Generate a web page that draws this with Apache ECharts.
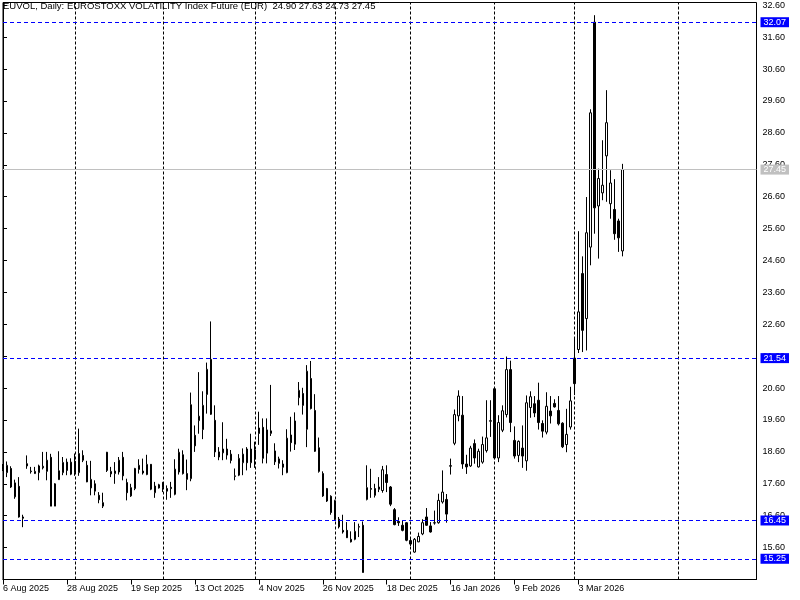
<!DOCTYPE html>
<html><head><meta charset="utf-8">
<script src="https://cdn.jsdelivr.net/npm/echarts@6/dist/echarts.min.js"></script>
<style>html,body{margin:0;padding:0;background:#fff}#c{width:800px;height:600px}</style>
</head><body><div id="c"></div>
<script>
// OHLC per trading day, index 0 = 6 Aug 2025
const opens = [18.15,17.95,18.08,17.19,17.52,16.56,18.23,17.98,17.92,17.95,18.10,17.99,18.43,16.90,17.73,17.95,18.28,17.90,18.31,17.95,
18.49,18.18,17.47,17.60,17.24,16.90,18.59,17.91,17.92,17.97,18.43,17.64,17.22,17.45,18.05,18.00,17.89,18.21,17.32,17.57,
17.64,17.45,17.49,17.27,17.97,18.51,17.92,17.76,19.12,19.58,19.30,20.40,21.50,19.59,18.60,18.57,18.69,18.33,17.83,17.87,
18.26,18.69,18.26,18.66,19.35,19.37,18.56,19.18,18.63,18.24,18.22,17.95,19.13,18.84,20.30,20.43,19.31,20.90,19.90,18.73,
17.92,17.45,17.21,17.07,16.49,16.14,16.14,15.86,15.86,16.24,16.30,17.11,17.45,17.45,17.50,17.39,17.89,17.50,16.79,16.42,
16.30,16.38,15.82,15.46,15.78,16.03,16.56,16.28,16.37,16.38,17.03,17.11,18.15,18.87,19.73,19.75,18.22,18.16,18.86,18.13,
18.28,18.64,19.56,20.58,18.41,19.28,19.77,21.18,18.96,18.49,18.72,18.32,19.99,20.11,20.22,19.49,19.22,19.88,20.12,19.90,
19.50,18.83,19.38,21.54,21.81,24.19,22.78,25.02,32.07,26.31,26.72,27.88,26.38,26.20,25.84,24.90];
const highs = [18.22,18.30,18.15,17.73,17.81,16.63,18.49,18.13,18.13,18.20,18.60,18.60,18.54,17.62,18.62,18.44,18.39,18.40,18.55,19.33,
18.65,18.32,18.32,17.71,17.34,17.32,18.60,18.13,18.28,18.44,18.60,17.76,17.60,18.10,18.37,18.39,18.51,18.22,17.66,17.60,
17.66,17.55,17.66,18.37,18.70,18.65,18.36,20.46,19.43,21.10,20.50,21.40,22.69,20.06,18.75,19.53,19.01,18.66,18.08,18.53,
18.71,18.75,19.17,18.92,19.86,19.65,19.65,20.70,18.87,18.45,18.34,19.31,19.70,19.84,20.79,20.61,21.32,21.45,20.41,19.05,
17.99,17.47,17.24,17.10,16.56,16.63,16.40,16.11,16.40,16.35,16.42,18.18,18.07,17.60,17.81,18.16,18.18,17.53,16.84,16.55,
16.46,16.40,15.90,15.90,16.07,16.49,16.84,16.40,16.76,17.29,18.02,17.28,18.39,19.93,20.53,20.35,18.51,18.79,18.99,18.70,
19.08,20.22,20.22,20.58,19.75,20.06,21.59,21.46,19.40,18.96,19.43,20.37,20.50,20.35,20.77,19.59,20.47,20.35,20.25,20.35,
19.53,19.95,20.64,22.17,25.52,24.73,26.59,29.34,32.29,27.48,28.37,29.94,27.43,27.15,25.91,27.63];
const lows = [18.00,17.81,17.47,17.13,16.54,16.24,18.07,17.92,17.91,17.71,18.05,17.71,16.90,16.90,17.72,17.87,17.87,17.87,17.85,17.85,
18.28,17.65,17.24,17.24,16.99,16.84,17.97,17.81,17.60,17.89,17.71,17.08,17.19,17.40,17.92,17.89,17.87,17.40,17.16,17.45,
17.34,17.10,17.16,17.24,17.89,17.89,17.40,17.68,18.60,19.17,19.00,19.80,19.76,18.44,18.34,18.34,18.36,18.24,17.71,17.84,
17.87,18.02,18.10,18.10,18.82,18.24,18.24,19.10,18.19,18.08,17.87,17.93,18.61,18.66,20.06,19.77,18.75,19.93,18.60,17.95,
17.19,17.03,16.63,16.46,16.20,16.04,15.90,15.76,15.83,15.93,14.82,17.08,17.16,17.17,17.34,17.32,17.34,16.90,16.30,16.28,
16.11,15.80,15.65,15.44,15.77,15.99,16.28,16.07,16.32,16.35,16.98,16.38,17.89,18.81,19.56,18.07,17.91,18.13,18.23,18.11,
18.23,18.58,19.07,18.37,18.28,19.22,19.68,19.22,18.39,18.28,18.10,18.01,19.67,19.69,19.30,19.05,19.15,19.49,19.99,19.43,
18.72,18.59,19.30,20.38,21.70,21.73,21.78,24.45,25.44,24.66,26.49,26.44,25.91,25.25,24.87,24.73];
const closes = [18.05,18.18,17.50,17.63,16.56,16.52,18.16,18.00,17.99,18.16,18.15,18.34,16.90,17.60,18.01,18.27,18.02,18.28,17.95,18.55,
18.34,17.66,17.74,17.37,17.10,17.01,18.02,17.99,18.00,18.34,17.85,17.32,17.48,18.08,18.18,17.94,18.21,17.43,17.53,17.47,
17.48,17.37,17.45,18.06,18.59,17.92,17.74,20.08,18.79,19.72,20.06,21.19,19.78,18.60,18.44,18.69,18.50,18.53,17.85,18.40,
18.53,18.26,18.69,18.38,19.18,18.40,19.29,19.26,18.29,18.38,18.12,19.03,18.89,19.57,20.53,20.06,21.13,19.96,18.62,17.99,
17.22,17.06,16.70,16.49,16.25,16.09,15.91,15.78,16.11,16.26,14.82,17.48,17.43,17.24,17.43,18.04,17.64,16.96,16.32,16.38,
16.14,15.83,15.71,15.86,15.95,16.38,16.30,16.09,16.38,17.08,17.34,16.65,18.17,19.77,20.35,18.22,18.13,18.72,18.41,18.62,
18.83,19.04,19.58,18.41,19.52,19.89,21.18,19.52,18.47,18.93,18.47,20.14,20.33,19.82,19.52,19.25,20.03,19.73,20.01,19.48,
18.76,19.15,20.20,20.74,22.99,22.41,25.47,29.23,26.25,27.17,26.96,28.92,27.03,25.44,25.31,27.45];

const tickLabels = ['6 Aug 2025','28 Aug 2025','19 Sep 2025','13 Oct 2025','4 Nov 2025','26 Nov 2025','18 Dec 2025','16 Jan 2026','9 Feb 2026','3 Mar 2026'];
const tickStep = 16;              // one date label every 16 bars
const separators = [18, 40, 63, 83, 102, 123, 143, 169]; // month starts (bar index)
const levels = [32.07, 21.54, 16.45, 15.25];
const barSlots = 188.5;           // visible bar slots incl. empty right margin
const yMin = 14.6, yMax = 32.688, yStep = 1;

const n = opens.length;
const candles = opens.map((o, i) => [i, o, closes[i], lows[i], highs[i]]);
const f2 = v => v.toFixed(2);
const last = n - 1;
const titleText = 'EUVOL, Daily: EUROSTOXX VOLATILITY Index Future (EUR)  ' +
  [opens[last], highs[last], lows[last], closes[last]].map(f2).join(' ');
const labelPos = tickLabels.map((_, k) => k * tickStep);

const FONT = 'Liberation Sans';
const chart = echarts.init(document.getElementById('c'), null, {renderer: 'canvas'});
chart.setOption({
  animation: false,
  backgroundColor: '#fff',
  title: {
    text: titleText, left: 3, top: 1, padding: 0,
    textStyle: {fontFamily: FONT, fontSize: 9.5, fontWeight: 'normal', color: '#000', lineHeight: 11}
  },
  grid: {left: 2.5, right: 43.5, top: 2.5, bottom: 20.5, show: true, borderColor: '#000', borderWidth: 1, backgroundColor: '#fff'},
  xAxis: {
    type: 'value', min: 0, max: barSlots, interval: tickStep,
    splitLine: {show: false},
    axisLine: {show: true, lineStyle: {color: '#000'}},
    axisTick: {show: true, length: 5, customValues: labelPos, lineStyle: {color: '#000'}},
    axisLabel: {
      show: true, margin: 5, align: 'left', color: '#000', fontFamily: FONT, fontSize: 9,
      customValues: labelPos,
      formatter: v => { const k = Math.round(v / tickStep); return tickLabels[k] || ''; }
    }
  },
  yAxis: {
    type: 'value', position: 'right', min: yMin, max: yMax, interval: yStep,
    splitLine: {show: false},
    axisLine: {show: true, lineStyle: {color: '#000'}},
    axisTick: {show: true, length: 4, lineStyle: {color: '#000'}},
    axisLabel: {
      margin: 6, color: '#000', fontFamily: FONT, fontSize: 9,
      formatter: v => (v < yMin + 0.5 || v > yMax - 0.05) ? '' : f2(v)
    }
  },
  series: [{
    type: 'candlestick',
    data: candles,
    encode: {x: 0, y: [1, 2, 3, 4]},
    barWidth: 2,
    itemStyle: {color: '#fff', color0: '#000', borderColor: '#000', borderColor0: '#000', borderWidth: 1},
    markLine: {
      silent: true, symbol: 'none', animation: false,
      data: [
        ...separators.map(x => ({xAxis: x, lineStyle: {color: '#000', type: [3, 2], width: 1}, label: {show: false}})),
        ...levels.map(v => ({yAxis: v, lineStyle: {color: '#0000ff', type: [4, 3], width: 1},
          label: {show: true, position: 'end', distance: 4, formatter: f2(v), color: '#fff', backgroundColor: '#0000ff',
                  padding: [1, 3, 0, 3], fontFamily: FONT, fontSize: 9, lineHeight: 9}})),
        {yAxis: closes[last], lineStyle: {color: '#c0c0c0', type: 'solid', width: 1},
          label: {show: true, position: 'end', distance: 4, formatter: f2(closes[last]), color: '#fff', backgroundColor: '#c0c0c0',
                  padding: [1, 3, 0, 3], fontFamily: FONT, fontSize: 9, lineHeight: 9}}
      ]
    }
  }]
});
</script></body></html>
